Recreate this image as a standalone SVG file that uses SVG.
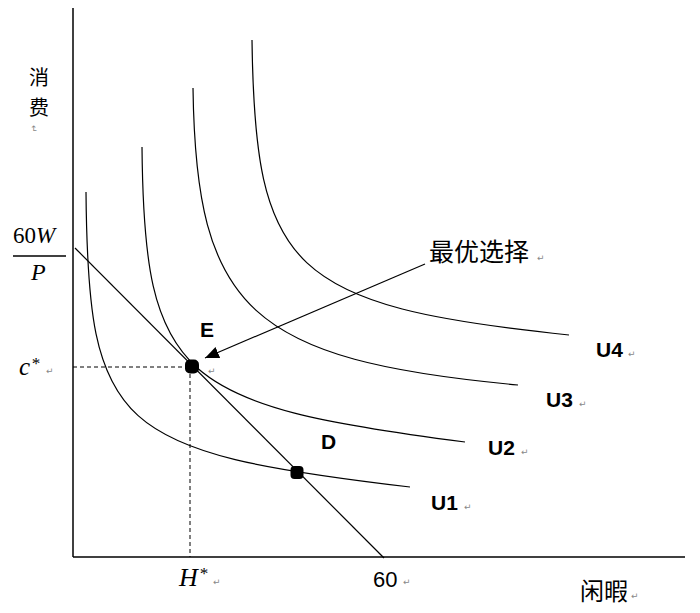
<svg xmlns="http://www.w3.org/2000/svg" width="700" height="613" viewBox="0 0 700 613">
<style>
.curve{fill:none;stroke:#000;stroke-width:1.2}
.axis{fill:none;stroke:#000;stroke-width:1.5}
.dash{fill:none;stroke:#000;stroke-width:1;stroke-dasharray:4 3}
.lbl{font-family:"Liberation Sans","Open Sans",sans-serif;font-weight:bold;font-size:21px;fill:#000}
.cjk{font-family:"Noto Sans CJK SC",sans-serif;fill:#000}
.math{font-family:"Liberation Serif",serif;font-style:italic;fill:#000}
.num{font-family:"Liberation Sans",sans-serif;font-size:22px;fill:#000}
.pm{font-family:"DejaVu Sans",sans-serif;font-size:9px;fill:#888}
</style>
<defs>
<marker id="ah" viewBox="0 0 14 12" refX="14" refY="6" markerWidth="14" markerHeight="12" markerUnits="userSpaceOnUse" orient="auto">
<path d="M0,0 L14,6 L0,12 Z" fill="#000"/>
</marker>
</defs>
<rect width="700" height="613" fill="#fff"/>
<g id="axes">
<line class="axis" x1="73" y1="8" x2="73" y2="557"/>
<line class="axis" x1="73" y1="557" x2="685" y2="557" stroke="#333"/>
</g>
<g id="connectors">
<line class="curve" x1="75" y1="248" x2="384" y2="558"/>
<line class="dash" x1="73" y1="367" x2="191" y2="367"/>
<line class="dash" x1="190" y1="367" x2="190" y2="557"/>
<line class="curve" x1="425" y1="264" x2="205" y2="358" marker-end="url(#ah)"/>
</g>
<g id="U1">
<path class="curve" d="M86,192 C88,430 115,452 410,487"/>
<text class="lbl" x="431" y="510">U1</text><text class="pm" x="464" y="510">↵</text>
</g>
<g id="U2">
<path class="curve" d="M142,147 C144,380 180,405 465,442"/>
<text class="lbl" x="488" y="455">U2</text><text class="pm" x="521" y="455">↵</text>
</g>
<g id="U3">
<path class="curve" d="M193,88 C196,310 250,360 518,385"/>
<text class="lbl" x="546" y="407">U3</text><text class="pm" x="579" y="407">↵</text>
</g>
<g id="U4">
<path class="curve" d="M252,40 C255,270 290,306 569,335"/>
<text class="lbl" x="596" y="357">U4</text><text class="pm" x="628" y="357">↵</text>
</g>
<g id="E">
<rect x="185" y="359.5" width="14" height="14" rx="5" fill="#000"/>
<text class="lbl" x="200" y="337">E</text>
<text class="pm" x="208" y="374">↵</text>
</g>
<g id="D">
<rect x="290.5" y="466" width="13" height="13" rx="4" fill="#000"/>
<text class="lbl" x="321" y="449">D</text>
</g>
<g id="optimal">
<text class="cjk" x="429" y="261" font-size="25">最优选择</text><text class="pm" x="537" y="261">↵</text>
</g>
<g id="ylabel">
<text class="cjk" x="29" y="85" font-size="20">消</text>
<text class="cjk" x="29" y="115" font-size="20">费</text>
<text class="pm" x="31" y="131" transform="rotate(90 34 128)">↵</text>
<text x="13" y="243" font-size="23" class="math"><tspan font-style="normal">60</tspan>W</text>
<line x1="13" y1="256" x2="66" y2="256" stroke="#000" stroke-width="1.6"/>
<text class="math" x="31" y="280" font-size="24">P</text>
<text class="math" x="19" y="375" font-size="25">c</text>
<text class="math" x="31" y="369" font-size="17">*</text>
<text class="pm" x="46" y="374">↵</text>
</g>
<g id="xlabel">
<text class="math" x="179" y="586" font-size="26">H</text>
<text class="math" x="199" y="579" font-size="17">*</text>
<text class="pm" x="213" y="585">↵</text>
<text class="num" x="373" y="587">60</text><text class="pm" x="403" y="585">↵</text>
<text class="cjk" x="580" y="600" font-size="24">闲暇</text><text class="pm" x="631" y="599">↵</text>
</g>
</svg>
